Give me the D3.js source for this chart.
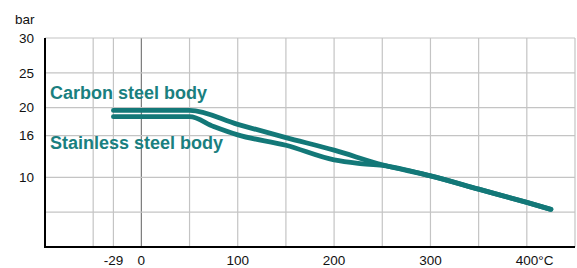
<!DOCTYPE html>
<html><head><meta charset="utf-8">
<script src="https://cdn.jsdelivr.net/npm/d3@7"></script>
<style>
body{margin:0;background:#fff;}
svg{display:block;font-family:"Liberation Sans",Arial,sans-serif;}
</style></head>
<body>
<svg id="c" width="577" height="268"></svg>
<script>
// Data
const carbonTemps = [-29, 50, 100, 150, 200, 250, 300, 350, 400, 425];
const carbonBar   = [19.6, 19.6, 17.6, 15.7, 13.9, 11.8, 10.2, 8.3, 6.4, 5.4];
const stainlessTemps = [-29, 50, 75, 100, 150, 200, 225, 250, 300, 350, 400, 425];
const stainlessBar   = [18.7, 18.7, 17.3, 16.1, 14.6, 12.5, 12.0, 11.7, 10.2, 8.3, 6.4, 5.4];
const seriesNames = ["Carbon steel body", "Stainless steel body"];
const xGrid = [-50, -29, 0, 50, 100, 150, 200, 250, 300, 350, 400, 450];
const xTickLabels = [-29, 0, 100, 200, 300, 400];
const yGrid = [5, 10, 16, 20, 25, 30];
const yTickLabels = [10, 16, 20, 25, 30];

const svg = d3.select("#c");
const x = d3.scaleLinear().domain([-100, 450]).range([45, 575]);
const y = d3.scaleLinear().domain([0, 30]).range([247, 38]);
const teal = "#137878";

// grid
svg.append("g").selectAll("line").data(xGrid).join("line")
  .attr("x1", d => x(d)).attr("x2", d => x(d))
  .attr("y1", y(30)).attr("y2", y(0))
  .attr("stroke", d => d === 0 ? "#7a7a7a" : "#c4c4c4").attr("stroke-width", 1.2);
svg.append("g").selectAll("line").data(yGrid).join("line")
  .attr("x1", x(-100)).attr("x2", x(450))
  .attr("y1", d => y(d)).attr("y2", d => y(d))
  .attr("stroke", "#c4c4c4").attr("stroke-width", 1.2);

// axes lines
svg.append("line").attr("x1", x(-100)).attr("x2", x(-100)).attr("y1", y(30)).attr("y2", y(0))
  .attr("stroke", "#000").attr("stroke-width", 2);
svg.append("line").attr("x1", x(-100) - 1).attr("x2", x(450)).attr("y1", y(0)).attr("y2", y(0))
  .attr("stroke", "#000").attr("stroke-width", 2);

// y labels
svg.append("g").selectAll("text").data(yTickLabels).join("text")
  .attr("x", 34).attr("y", d => y(d)).attr("dy", "0.35em")
  .attr("text-anchor", "end").attr("font-size", 13.5).attr("fill", "#111").text(d => d);
svg.append("text").attr("x", 15).attr("y", 24).attr("font-size", 13.5).attr("fill", "#111").text("bar");

// x labels
svg.append("g").selectAll("text").data(xTickLabels).join("text")
  .attr("x", d => x(d)).attr("y", 265)
  .attr("text-anchor", d => d === 400 ? "start" : "middle")
  .attr("dx", d => d === 400 ? -11 : 0)
  .attr("font-size", 13.5).attr("fill", "#111").text(d => d === 400 ? "400°C" : d);

// lines
const line = d3.line().x(d => x(d[0])).y(d => y(d[1])).curve(d3.curveMonotoneX);
const carbon = carbonTemps.map((t, i) => [t, carbonBar[i]]);
const stainless = stainlessTemps.map((t, i) => [t, stainlessBar[i]]);
[carbon, stainless].forEach(s => {
  svg.append("path").attr("d", line(s)).attr("fill", "none")
    .attr("stroke", teal).attr("stroke-width", 4.8).attr("stroke-linecap", "round").attr("stroke-linejoin", "round");
});

// series labels
svg.append("text").attr("x", 50).attr("y", 99).attr("font-size", 18).attr("font-weight", "bold")
  .attr("fill", "#1a7f7f").text(seriesNames[0]);
svg.append("text").attr("x", 50).attr("y", 148.5).attr("font-size", 18).attr("font-weight", "bold")
  .attr("fill", "#1a7f7f").text(seriesNames[1]);
</script>
</body></html>
